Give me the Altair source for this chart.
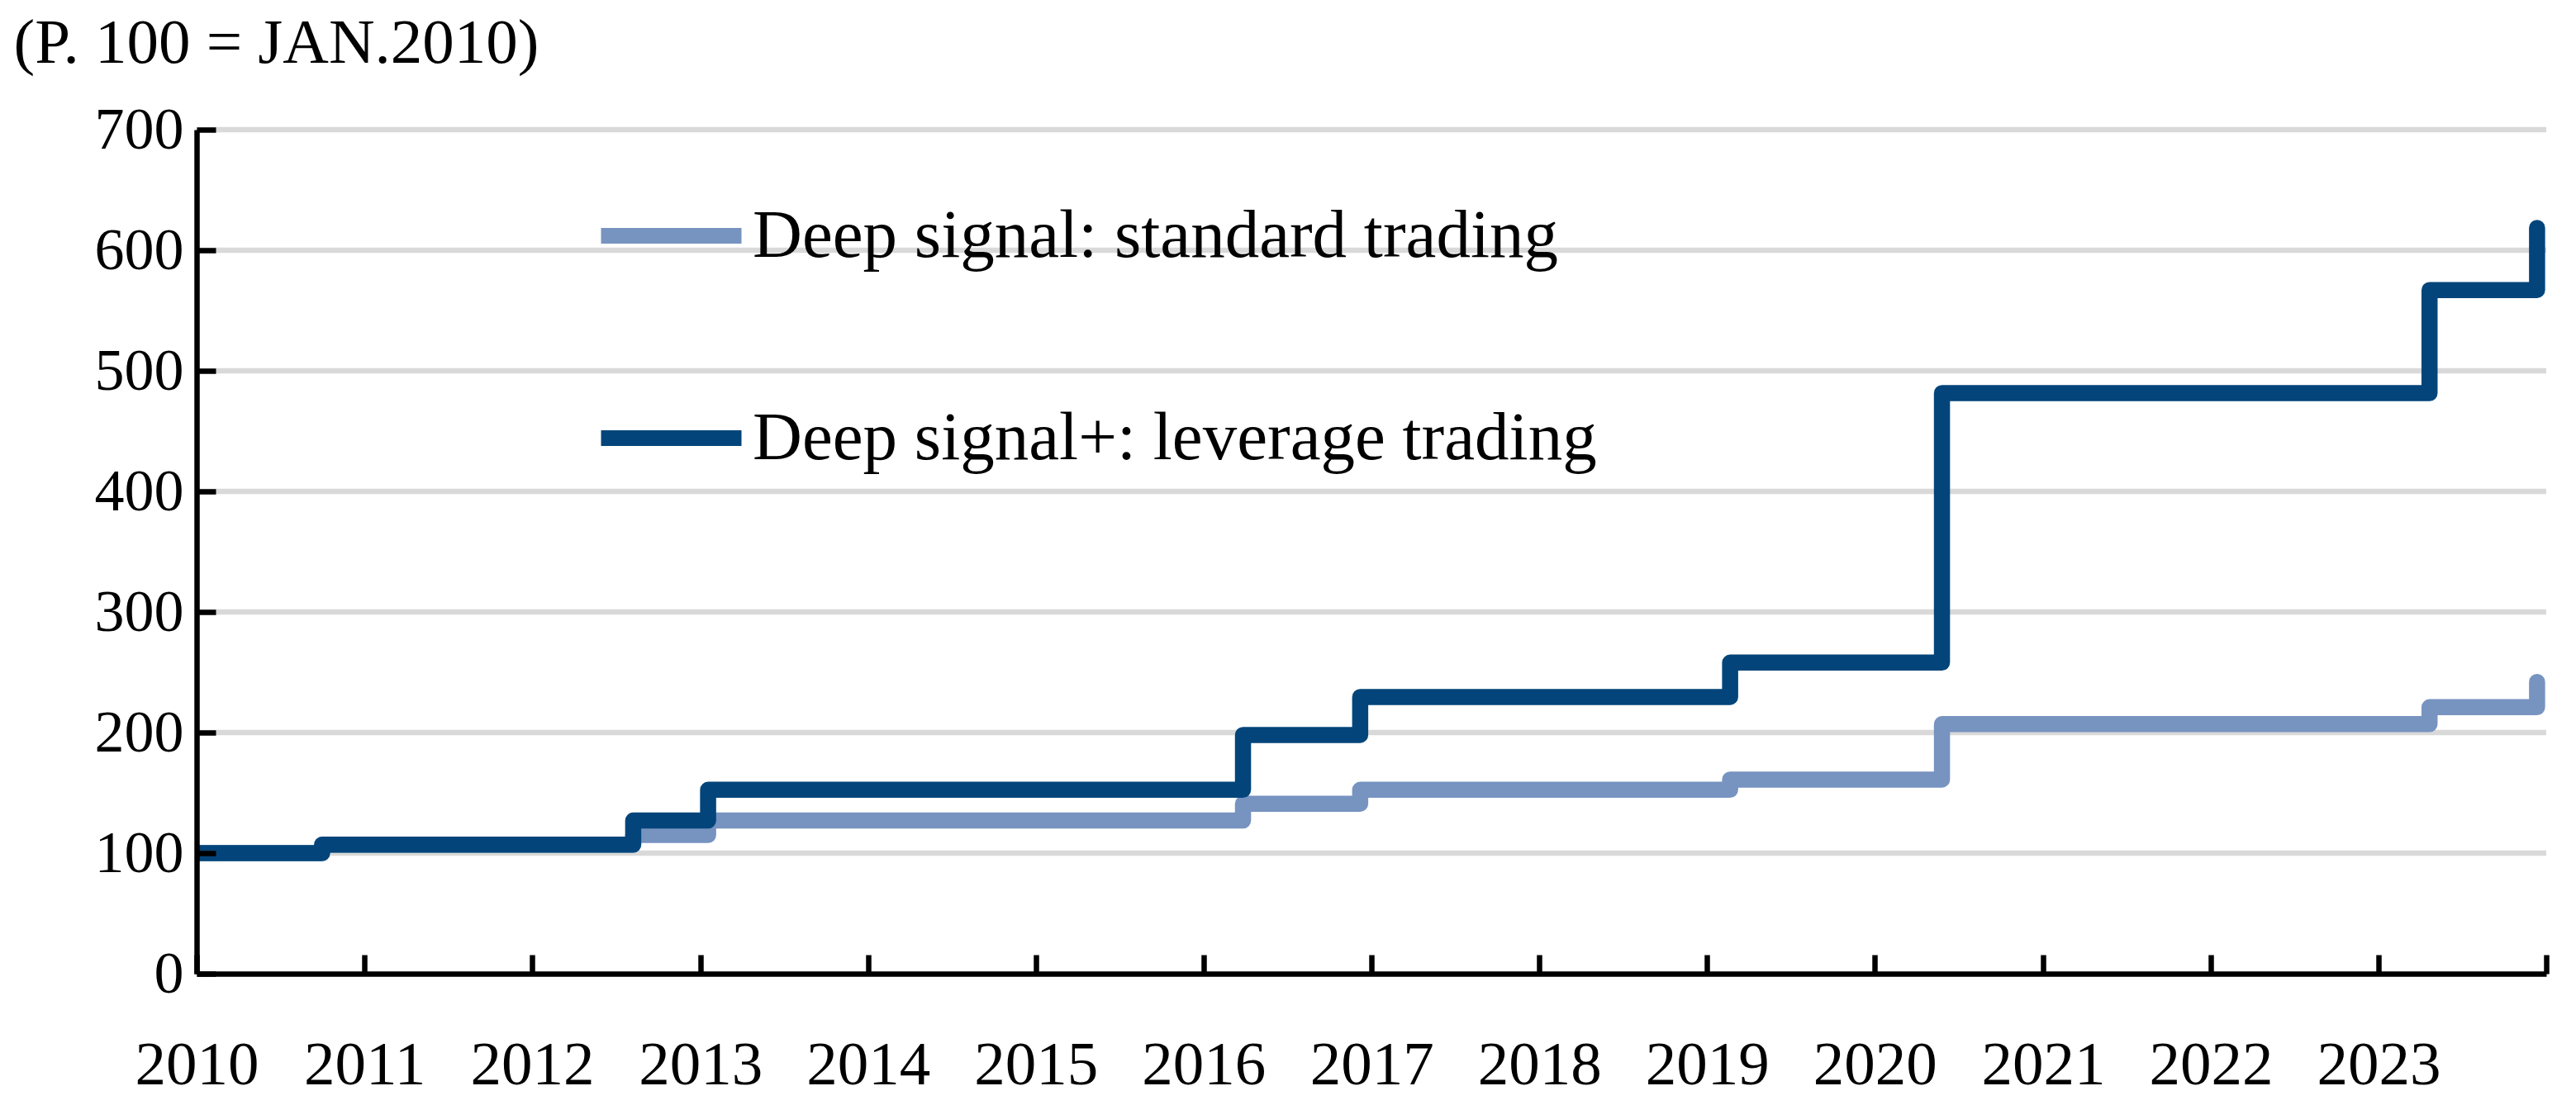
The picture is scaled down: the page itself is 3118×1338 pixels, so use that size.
import altair as alt
import pandas as pd

# ---- data ----
step_dates = ["2010-01-01", "2010-10-01", "2012-08-08", "2013-01-18", "2016-03-27",
              "2016-12-07", "2019-02-20", "2020-05-26", "2023-04-22", "2023-12-12"]
standard = [100, 107, 115, 127, 141, 152.5, 161, 207, 221, 242]
leverage = [100, 107, 127, 152.5, 198, 229.5, 258, 481.5, 567, 618.5]
series_names = ["Deep signal: standard trading", "Deep signal+: leverage trading"]
series_colors = ["#7793C0", "#03457A"]
year_labels = list(range(2010, 2024))
year_ticks = list(range(2010, 2025))
y_ticks = [0, 100, 200, 300, 400, 500, 600, 700]
grid_values = [100, 200, 300, 400, 500, 600, 700]
y_title = "(P. 100 = JAN.2010)"

df = pd.DataFrame({
    "date": step_dates * 2,
    "value": standard + leverage,
    "series": [series_names[0]] * len(standard) + [series_names[1]] * len(leverage),
})
grid_df = pd.DataFrame({"value": grid_values})

FONT = "Liberation Serif"
W, H = 2844, 1022

def dt(y):
    return alt.DateTime(year=y, month=1, date=1, utc=True)

x_scale = alt.Scale(type="utc", domain=[dt(2010), dt(2024)])
y_scale = alt.Scale(domain=[0, 700], nice=False, zero=True)

main_x_axis = alt.Axis(
    orient="bottom", values=[dt(y) for y in year_labels], format="%Y",
    labelFont=FONT, labelFontSize=75, labelColor="black", labelPadding=133,
    labelBaseline="alphabetic", labelFlush=False, labelOverlap=False,
    ticks=False, tickSize=0, grid=False, domain=True, domainColor="black",
    domainWidth=6.5, title=None, zindex=1,
)
tick_x_axis = alt.Axis(
    orient="bottom", values=[dt(y) for y in year_ticks], offset=-23,
    ticks=True, tickSize=23, tickColor="black", tickWidth=6.5,
    labels=False, domain=False, grid=False, title=None, zindex=1,
)
main_y_axis = alt.Axis(
    orient="left", values=y_ticks, labelFont=FONT, labelFontSize=72,
    labelColor="black", labelPadding=16, labelBaseline="middle",
    ticks=False, tickSize=0, grid=False, domain=True, domainColor="black",
    domainWidth=6.5, zindex=1,
    title=y_title, titleAngle=0, titleAlign="left", titleBaseline="alphabetic",
    titleX=-222, titleY=-82, titleFont=FONT, titleFontSize=77,
    titleFontWeight="normal", titleColor="black",
)
tick_y_axis = alt.Axis(
    orient="left", values=y_ticks, offset=-23,
    ticks=True, tickSize=23, tickColor="black", tickWidth=6.5,
    labels=False, domain=False, grid=False, title=None, zindex=1,
)

grid = alt.Chart(grid_df).mark_rule(color="#D9D9D9", strokeWidth=6.5).encode(
    y=alt.Y("value:Q", scale=y_scale, axis=main_y_axis)
)

lines = alt.Chart(df).mark_line(
    interpolate="step-after", strokeWidth=19.5, strokeCap="round",
    strokeJoin="round", clip=True
).encode(
    x=alt.X("date:T", scale=x_scale, axis=main_x_axis),
    y=alt.Y("value:Q", scale=y_scale, axis=tick_y_axis),
    color=alt.Color(
        "series:N",
        scale=alt.Scale(domain=series_names, range=series_colors),
        legend=alt.Legend(
            orient="none", legendX=480, legendY=34, direction="vertical",
            title=None, symbolType="stroke", symbolSize=28900,
            symbolStrokeWidth=19, labelFont=FONT, labelFontSize=83,
            labelColor="black", labelLimit=3000, labelOffset=4,
            rowPadding=108, padding=0, offset=0,
        ),
    ),
    order=alt.Order("date:T"),
)

ticks_layer = alt.Chart(df).mark_line(opacity=0).encode(
    x=alt.X("date:T", scale=x_scale, axis=tick_x_axis),
    y=alt.Y("value:Q", scale=y_scale, axis=None),
    detail="series:N",
)

chart = alt.layer(grid, lines, ticks_layer).resolve_axis(
    x="independent", y="independent"
).properties(
    width=W, height=H,
    autosize=alt.AutoSizeParams(type="none"),
    padding={"left": 230, "top": 149, "right": 28, "bottom": 151},
    background="white",
).configure_view(stroke=None)

chart.save("out.html", embed_options={"renderer": "svg", "actions": False})
